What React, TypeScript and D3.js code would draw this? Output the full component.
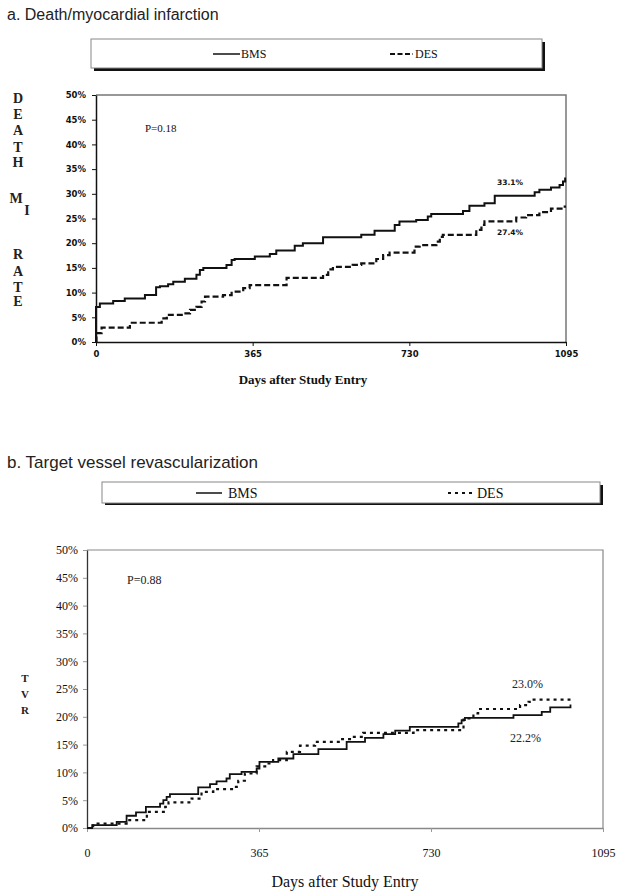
import React, { useEffect, useRef } from "react";
import * as d3 from "d3";

// Panel a: death / MI, Kaplan-Meier style cumulative event rates (%)
const bmsDaysA = [0, 0, 9, 40, 67, 114, 140, 149, 168, 180, 207, 234, 242, 250, 304, 316, 323, 370, 405, 420, 463, 482, 529, 618, 649, 696, 707, 746, 773, 781, 855, 870, 905, 929, 1022, 1033, 1060, 1080, 1088, 1093, 1095];
const bmsRateA = [0, 7.1, 7.8, 8.3, 8.8, 9.5, 11.1, 11.3, 11.7, 12.2, 12.8, 13.6, 14.6, 15.0, 15.6, 16.6, 16.8, 17.3, 17.8, 18.5, 19.5, 20.0, 21.2, 21.7, 22.5, 23.7, 24.4, 24.7, 25.4, 25.9, 26.5, 27.6, 28.1, 29.6, 30.3, 30.8, 31.3, 31.8, 32.5, 33.1, 33.1];
const desDaysA = [0, 1, 13, 79, 153, 165, 203, 219, 234, 246, 254, 296, 316, 343, 358, 444, 529, 541, 552, 598, 618, 653, 669, 684, 742, 754, 793, 801, 808, 886, 898, 905, 979, 1002, 1033, 1060, 1088, 1095];
const desRateA = [0, 1.8, 2.9, 3.9, 4.8, 5.5, 5.8, 6.5, 7.1, 8.2, 9.2, 9.5, 10.2, 10.9, 11.5, 13.0, 13.6, 14.7, 15.2, 15.6, 15.9, 16.8, 17.6, 18.1, 19.3, 19.6, 20.3, 21.3, 21.7, 22.7, 23.7, 24.4, 25.2, 25.7, 26.3, 27.0, 27.4, 27.4];

// Panel b: target vessel revascularization
const bmsDaysB = [0, 11, 63, 84, 104, 125, 155, 162, 169, 176, 236, 261, 275, 296, 303, 328, 360, 366, 406, 438, 491, 551, 590, 629, 654, 685, 788, 795, 802, 905, 965, 983, 1026];
const bmsRateB = [0, 0.5, 1.1, 2.2, 2.8, 3.8, 4.4, 5.0, 5.6, 6.1, 7.3, 7.9, 8.4, 8.9, 9.7, 10.1, 10.7, 11.9, 12.5, 13.3, 14.2, 15.5, 16.2, 16.9, 17.5, 18.2, 18.8, 19.4, 19.8, 20.3, 20.9, 21.7, 22.2];
const desDaysB = [0, 13, 84, 127, 166, 173, 222, 243, 268, 310, 321, 335, 360, 381, 395, 424, 452, 484, 537, 558, 586, 693, 799, 820, 830, 919, 937, 944, 1026];
const desRateB = [0, 0.8, 1.4, 2.9, 3.8, 4.6, 5.3, 6.5, 7.0, 7.4, 8.5, 9.8, 11.1, 11.6, 12.2, 13.7, 14.8, 15.5, 16.0, 16.4, 17.1, 17.6, 19.7, 20.6, 21.4, 22.1, 22.7, 23.1, 23.1];

const yTicks = [0, 5, 10, 15, 20, 25, 30, 35, 40, 45, 50];
const xTicks = [0, 365, 730, 1095];
const seriesNames = ["BMS", "DES"];

const zip = (days: number[], rates: number[]) => days.map((d, i) => ({ day: d, rate: rates[i] }));

const App: React.FC = () => {
  const ref = useRef<SVGSVGElement | null>(null);

  useEffect(() => {
    if (!ref.current) return;
    const svg = d3.select(ref.current);
    svg.selectAll(".plot").remove();

    const drawPanel = (opts: any) => {
      const g = svg.append("g").attr("class", "plot");
      const x = d3.scaleLinear().domain([0, 1095]).range(opts.xr);
      const y = d3.scaleLinear().domain([0, 50]).range(opts.yr);

      // frame (top + right, grey)
      g.append("path")
        .attr("d", `M${x(0)},${y(50)}H${x(1095)}V${y(0)}`)
        .attr("fill", "none")
        .attr("stroke", opts.frame)
        .attr("stroke-width", opts.frameW);

      const ya = g
        .append("g")
        .attr("transform", `translate(${x(0)},0)`)
        .call(d3.axisLeft(y).tickValues(yTicks).tickFormat((d: any) => d + "%").tickSize(4).tickPadding(opts.yPad).tickSizeOuter(0));
      ya.select(".domain").attr("stroke", opts.yAxisColor).attr("stroke-width", opts.axisW);
      ya.selectAll(".tick line").attr("stroke", opts.tickColor);
      ya.selectAll("text").attr("font-family", opts.tickFont).attr("font-size", opts.tickSize).attr("font-weight", opts.tickWeight).attr("fill", "#111");

      const xa = g
        .append("g")
        .attr("transform", `translate(0,${y(0)})`)
        .call(d3.axisBottom(x).tickValues(xTicks).tickFormat(d3.format("d")).tickSize(4).tickPadding(opts.xPad).tickSizeOuter(0));
      xa.select(".domain").attr("stroke", opts.xAxisColor).attr("stroke-width", opts.axisW);
      xa.selectAll(".tick line").attr("stroke", opts.tickColor);
      xa.selectAll("text").attr("font-family", opts.tickFont).attr("font-size", opts.tickSize).attr("font-weight", opts.tickWeight).attr("fill", "#111");

      const line = d3
        .line<{ day: number; rate: number }>()
        .x((d) => x(d.day))
        .y((d) => y(d.rate))
        .curve(d3.curveStepAfter);

      opts.series.forEach((s: any) => {
        g.append("path")
          .datum(s.data)
          .attr("fill", "none")
          .attr("stroke", "#111")
          .attr("stroke-width", s.width)
          .attr("stroke-dasharray", s.dash)
          .attr("d", line);
      });
    };

    drawPanel({
      xr: [96, 566],
      yr: [342, 95],
      frame: "#777",
      frameW: 1.5,
      yAxisColor: "#111",
      xAxisColor: "#111",
      tickColor: "#111",
      axisW: 1.5,
      yPad: 6,
      xPad: 5,
      tickFont: "DejaVu Sans, sans-serif",
      tickSize: 8.5,
      tickWeight: "bold",
      series: [
        { data: zip(bmsDaysA, bmsRateA), width: 2, dash: null },
        { data: zip(desDaysA, desRateA), width: 2.2, dash: "6,3" },
      ],
    });

    drawPanel({
      xr: [87, 603],
      yr: [828, 550],
      frame: "#888",
      frameW: 1.2,
      yAxisColor: "#333",
      xAxisColor: "#888",
      tickColor: "#999",
      axisW: 1.3,
      yPad: 5,
      xPad: 16,
      tickFont: "Liberation Serif, Times New Roman, serif",
      tickSize: 12,
      tickWeight: "normal",
      series: [
        { data: zip(bmsDaysB, bmsRateB), width: 1.8, dash: null },
        { data: zip(desDaysB, desRateB), width: 2.2, dash: "3,4" },
      ],
    });
  }, []);

  const serif = "Liberation Serif, Times New Roman, serif";
  const sans = "Liberation Sans, Arial, sans-serif";

  return (
    <svg
      ref={ref}
      width={624}
      height={892}
      style={{ position: "absolute", left: 0, top: 0, background: "#fff" }}
    >
      <rect width={624} height={892} fill="#fff" />

      {/* Panel a */}
      <text x={7} y={20} fontFamily={sans} fontSize={16} fill="#222">
        a. Death/myocardial infarction
      </text>
      <rect x={94} y={42} width={451} height={29} fill="#111" />
      <rect x={91} y={39} width={451} height={29} fill="#fff" stroke="#888" strokeWidth={1} />
      <line x1={213} x2={240} y1={54} y2={54} stroke="#111" strokeWidth={1.5} />
      <text x={241} y={58} fontFamily={serif} fontSize={12} fill="#111">{seriesNames[0]}</text>
      <line x1={390} x2={413} y1={54} y2={54} stroke="#111" strokeWidth={2} strokeDasharray="5,2.5" />
      <text x={415} y={58} fontFamily={serif} fontSize={12} fill="#111">{seriesNames[1]}</text>

      <g fontFamily={serif} fontSize={14} fontWeight="bold" fill="#222" textAnchor="middle" dominantBaseline="central">
        <text x={18} y={98}>D</text>
        <text x={18} y={114}>E</text>
        <text x={18} y={130}>A</text>
        <text x={18} y={147}>T</text>
        <text x={18} y={162}>H</text>
        <text x={16} y={198}>M</text>
        <text x={27} y={210}>I</text>
        <text x={18} y={254}>R</text>
        <text x={18} y={271}>A</text>
        <text x={18} y={287}>T</text>
        <text x={18} y={301}>E</text>
      </g>

      <text x={145} y={132} fontFamily={serif} fontSize={11} fill="#111">P=0.18</text>
      <text x={497} y={185} fontFamily="DejaVu Sans, sans-serif" fontSize={7.5} fontWeight="bold" fill="#111">33.1%</text>
      <text x={497} y={235} fontFamily="DejaVu Sans, sans-serif" fontSize={7.5} fontWeight="bold" fill="#111">27.4%</text>
      <text x={303} y={384} fontFamily={serif} fontSize={13} fontWeight="bold" textAnchor="middle" fill="#111">
        Days after Study Entry
      </text>

      {/* Panel b */}
      <text x={7} y={468} fontFamily={sans} fontSize={17} fill="#222">
        b. Target vessel revascularization
      </text>
      <rect x={105} y={485} width={498} height={20} fill="#111" />
      <rect x={102} y={482} width={498} height={21} fill="#fff" stroke="#888" strokeWidth={1} />
      <line x1={196} x2={222} y1={493} y2={493} stroke="#111" strokeWidth={1.5} />
      <text x={228} y={498} fontFamily={serif} fontSize={14} fill="#111">{seriesNames[0]}</text>
      <line x1={448} x2={475} y1={493} y2={493} stroke="#111" strokeWidth={1.8} strokeDasharray="3,4" />
      <text x={477} y={498} fontFamily={serif} fontSize={14} fill="#111">{seriesNames[1]}</text>

      <g fontFamily={serif} fontSize={11} fontWeight="bold" fill="#222" textAnchor="middle" dominantBaseline="central">
        <text x={25} y={678}>T</text>
        <text x={25} y={694}>V</text>
        <text x={25} y={710}>R</text>
      </g>

      <text x={127} y={584} fontFamily={serif} fontSize={12} fill="#222">P=0.88</text>
      <text x={512} y={688} fontFamily={serif} fontSize={12} fill="#222">23.0%</text>
      <text x={510} y={742} fontFamily={serif} fontSize={12} fill="#222">22.2%</text>
      <text x={345} y={887} fontFamily={serif} fontSize={16} textAnchor="middle" fill="#111">
        Days after Study Entry
      </text>
    </svg>
  );
};

export default App;
